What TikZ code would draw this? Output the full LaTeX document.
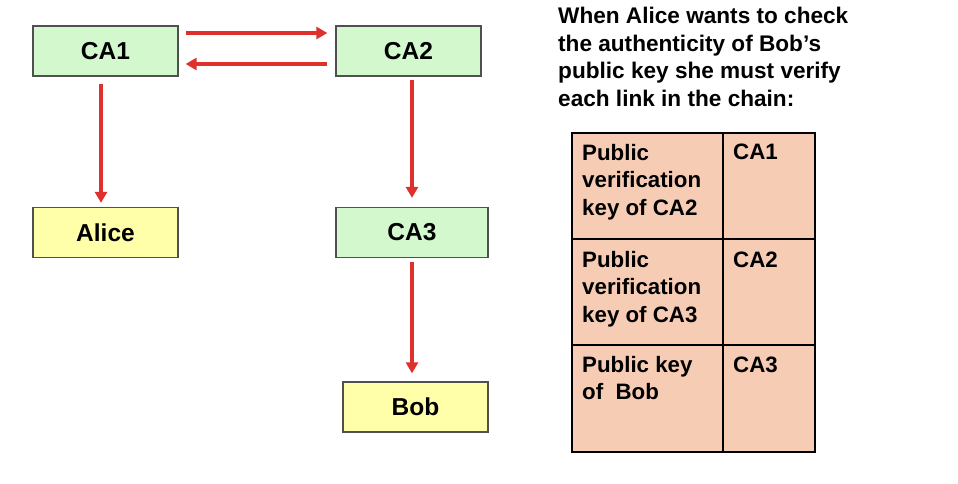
\documentclass[tikz,border=0pt]{standalone}
\usepackage{fontspec}
\setmainfont{Liberation Sans}
\usetikzlibrary{arrows.meta}
\definecolor{boxgreen}{RGB}{212,248,206}
\definecolor{boxyellow}{RGB}{255,255,170}
\definecolor{peach}{RGB}{246,204,180}
\definecolor{arrred}{RGB}{222,48,44}
\definecolor{edge}{RGB}{80,80,80}
\tikzset{
  cbox/.style={draw=edge, line width=1.3pt, minimum width=145pt, minimum height=50pt, inner sep=0pt,
    font=\fontsize{24.5}{28}\selectfont\bfseries},
  gbox/.style={cbox, fill=boxgreen},
  ybox/.style={cbox, fill=boxyellow},
  arr/.style={draw=arrred, line width=3.2pt, -{Triangle[length=11pt,width=12pt]}},
  ttext/.style={anchor=north west, align=left, inner sep=0pt, font=\fontsize{22.3}{27.5}\selectfont\bfseries},
  htext/.style={ttext, font=\fontsize{22.6}{27.5}\selectfont\bfseries},
  ctext/.style={anchor=base west, inner sep=0pt, font=\fontsize{22.3}{27.5}\selectfont\bfseries},
}
\begin{document}
\begin{tikzpicture}[x=1pt,y=-1pt]
\useasboundingbox (0,0) rectangle (958,484);
\node[gbox] (ca1) at (105.5,51) {CA1};
\node[gbox] (ca2) at (408.5,51) {CA2};
\node[ybox] (alice) at (105.5,232.5) {Alice};
\node[gbox, minimum width=152pt] (ca3) at (412,232.5) {CA3};
\node[ybox] (bob) at (415.5,407) {Bob};

\draw[arr] ([shift={(7,-18)}]ca1.east) -- ([shift={(-8,-18)}]ca2.west);
\draw[arr] ([shift={(-8,13)}]ca2.west) -- ([shift={(7,13)}]ca1.east);
\draw[arr] ([shift={(-4.5,7)}]ca1.south) -- ([shift={(-4.5,-4)}]alice.north);
\draw[arr] ([shift={(3.5,3)}]ca2.south) -- ([shift={(0,-9)}]ca3.north);
\draw[arr] ([shift={(0,4)}]ca3.south) -- ([shift={(-3.5,-8)}]bob.north);

\node[htext] (head) at (558,7) {When Alice wants to check\\the authenticity of Bob’s\\public key she must verify\\each link in the chain:};

\fill[peach] (572,133) rectangle (815,452);
\draw[black, line width=1.4pt] (723,133) -- (723,452) (572,239) -- (815,239) (572,345) -- (815,345);
\draw[black, line width=2.2pt] (572,133) rectangle (815,452);
\node[ttext] (r1a) at (582,144) {Public\\verification\\key of CA2};
\node[ctext] (r1b) at (733,160) {CA1};
\node[ttext] (r2a) at (582,251) {Public\\verification\\key of CA3};
\node[ctext] (r2b) at (733,267) {CA2};
\node[ttext] (r3a) at (582,356) {Public key\\of~ Bob};
\node[ctext] (r3b) at (733,372) {CA3};
\end{tikzpicture}
\end{document}
